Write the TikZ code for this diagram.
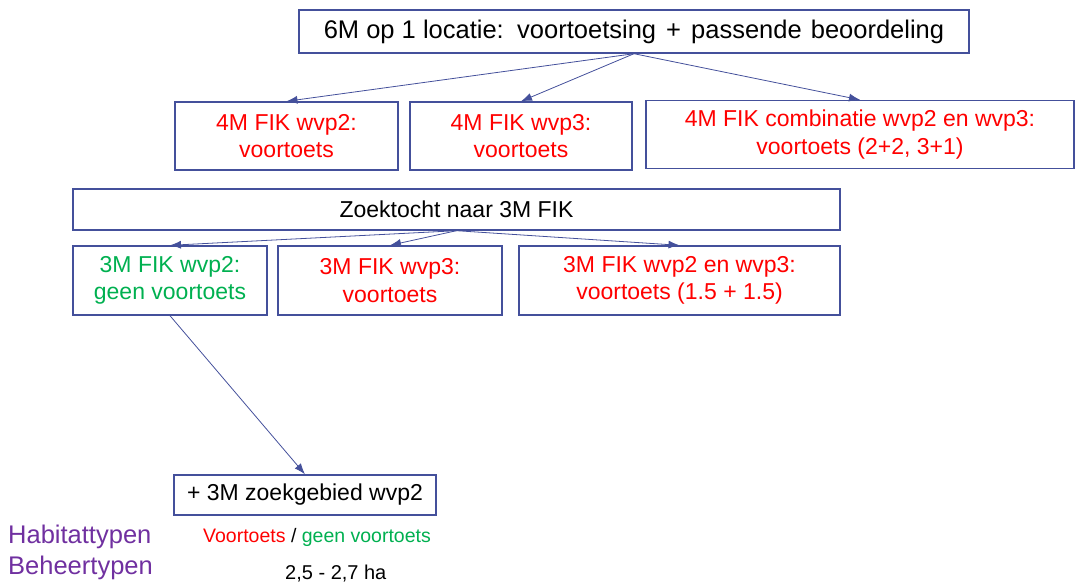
\documentclass[tikz,border=0pt]{standalone}
\usepackage{fontspec}
\setmainfont{Liberation Sans}
\usepackage{xcolor}
\usetikzlibrary{arrows.meta}
\definecolor{myblue}{RGB}{68,80,155}
\definecolor{myred}{RGB}{255,0,0}
\definecolor{mygreen}{RGB}{0,176,80}
\definecolor{mypurple}{RGB}{112,48,160}

\begin{document}
\begin{tikzpicture}[x=1pt,y=-1pt,
  box/.style={draw=myblue,line width=1.4pt,inner sep=2pt,align=center,
    font=\fontsize{23}{27.6}\selectfont},
  conn/.style={myblue,line width=0.8pt,-{Latex[length=11pt,width=8pt]}}]
\useasboundingbox (0,0) rectangle (1078,586);
%top
\node[box,minimum width=670pt,minimum height=43pt,
  font=\fontsize{25.5}{30}\selectfont] (top) at (634,31.5)
  {6M op 1 locatie:\hskip4pt{} voortoetsing\hskip3pt{} +\hskip3pt{} passende\hskip2pt{} beoordeling};
%4M
\node[box,text=myred,minimum width=223pt,minimum height=68pt] (fourA) at (286.5,136)
  {4M FIK wvp2:\\voortoets};
\node[box,text=myred,minimum width=222pt,minimum height=68pt] (fourB) at (521,136)
  {4M FIK wvp3:\\voortoets};
\node[box,text=myred,minimum width=428pt,minimum height=68pt] (fourC) at (860,134.5)
  {4M FIK combinatie wvp2 en wvp3:\\voortoets (2+2, 3+1)};
%3M
\node[box,minimum width=767pt,minimum height=41pt] (search) at (456.5,209.5)
  {Zoektocht naar 3M FIK};
\node[box,text=mygreen,minimum width=194pt,minimum height=69pt] (threeA) at (170,280.5)
  {3M FIK wvp2:\\geen voortoets};
\node[box,text=myred,minimum width=224pt,minimum height=69pt] (threeB) at (390,280.5)
  {3M FIK wvp3:\\voortoets};
\node[box,text=myred,minimum width=321pt,minimum height=69pt] (threeC) at (679.5,280.5)
  {3M FIK wvp2 en wvp3:\\voortoets (1.5 + 1.5)};
\node[box,minimum width=262pt,minimum height=40pt] (area) at (305,495)
  {+ 3M zoekgebied wvp2};

\draw[conn] (top.south) -- (fourA.north);
\draw[conn] (top.south) -- (fourB.north);
\draw[conn] (top.south) -- (fourC.north);
\draw[conn] (search.south) -- (threeA.north);
\draw[conn] (search.south) -- (threeB.north);
\draw[conn] (search.south) -- (threeC.north);
\draw[conn] (threeA.south) -- (area.north);

%legend
\node[anchor=base west,inner sep=0pt,text=mypurple,font=\fontsize{25.5}{30}\selectfont]
  (habitat) at (8,543) {Habitattypen};
\node[anchor=base west,inner sep=0pt,text=mypurple,font=\fontsize{25.5}{30}\selectfont]
  (beheer) at (8,574) {Beheertypen};
\node[anchor=base west,inner sep=0pt,font=\fontsize{19.5}{23}\selectfont]
  (habval) at (203,542) {\textcolor{myred}{Voortoets} / \textcolor{mygreen}{geen voortoets}};
\node[anchor=base west,inner sep=0pt,font=\fontsize{20}{24}\selectfont]
  (beheerval) at (285,579) {2,5 - 2,7 ha};
\end{tikzpicture}
\end{document}
